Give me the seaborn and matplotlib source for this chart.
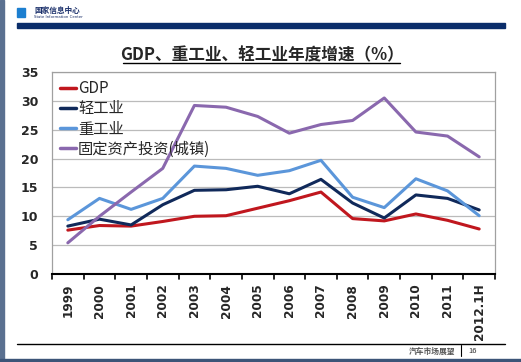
import pandas as pd
import seaborn as sns
import matplotlib.pyplot as plt
from matplotlib.lines import Line2D
from matplotlib.patches import Rectangle

# data
years = ['1999', '2000', '2001', '2002', '2003', '2004', '2005', '2006',
         '2007', '2008', '2009', '2010', '2011', '2012.1H']
gdp = [7.6, 8.4, 8.3, 9.1, 10.0, 10.1, 11.4, 12.7, 14.2, 9.6, 9.2, 10.4, 9.3, 7.8]
light_ind = [8.3, 9.5, 8.5, 12.0, 14.5, 14.6, 15.2, 13.9, 16.4, 12.3, 9.7, 13.7, 13.1, 11.1]
heavy_ind = [9.4, 13.1, 11.2, 13.1, 18.7, 18.3, 17.1, 17.9, 19.7, 13.3, 11.5, 16.5, 14.4, 10.1]
fixed_inv = [5.4, 10.0, 14.2, 18.3, 29.2, 28.9, 27.3, 24.4, 25.9, 26.6, 30.5, 24.6, 23.9, 20.3]

series_names = ['GDP', '轻工业', '重工业', '固定资产投资(城镇)']
colors = ['#C0171E', '#10295A', '#5B96DA', '#8A68AE']

df = pd.DataFrame({'year': years * 4,
                   'value': gdp + light_ind + heavy_ind + fixed_inv,
                   'series': sum([[n] * len(years) for n in series_names], [])})

sns.set_style('white')
plt.rcParams['font.family'] = ['Noto Sans CJK SC', 'DejaVu Sans']

fig = plt.figure(figsize=(5.21, 3.62), dpi=100)

# slide decoration
fig.patches.append(Rectangle((0, 0), 0.007, 1, transform=fig.transFigure, color='#5A7090'))
fig.patches.append(Rectangle((0, 0), 1, 0.009, transform=fig.transFigure, color='#3C5478'))
fig.patches.append(Rectangle((17 / 521, 1 - 28 / 362), 488 / 521, 5 / 362,
                             transform=fig.transFigure, color='#0A2D6A'))
fig.patches.append(Rectangle((17 / 521, 1 - 17 / 362), 8 / 521, 9 / 362,
                             transform=fig.transFigure, color='#1C7FD0'))
fig.text(34 / 521, 1 - 10 / 362, '国家信息中心', fontsize=5.5, fontweight='bold',
         color='#1A2F6A', va='center')
fig.text(34 / 521, 1 - 17 / 362, 'State Information Center', fontsize=2.8,
         color='#1A2F6A', va='center', family='DejaVu Sans')
fig.add_artist(Line2D([17 / 521, 505 / 521], [1 - 344 / 362, 1 - 344 / 362],
                      color='black', lw=1.0))
fig.text(455 / 521, 1 - 351 / 362, '汽车市场展望', fontsize=5.6, fontweight='bold',
         color='#555555', ha='right', va='center')
fig.add_artist(Line2D([461 / 521, 461 / 521], [1 - 356 / 362, 1 - 345 / 362],
                      color='black', lw=0.8))
fig.text(468 / 521, 1 - 351 / 362, '16', fontsize=5.5, color='#333333', va='center')

# title
fig.text(262 / 521, 1 - 55 / 362, 'GDP、重工业、轻工业年度增速（%）', fontsize=12,
         fontweight='bold', ha='center', va='center')
fig.add_artist(Line2D([123 / 521, 400 / 521], [1 - 63 / 362, 1 - 63 / 362],
                      color='black', lw=1.0))

ax = fig.add_axes([52 / 521, 1 - 274 / 362, 443 / 521, 202 / 362])
sns.lineplot(data=df, x='year', y='value', hue='series', hue_order=series_names,
             palette=colors, linewidth=2.2, sort=False, ax=ax)

ax.set_xlim(-0.5, len(years) - 0.5)
ax.set_ylim(0, 35)
ax.set_yticks(range(0, 36, 5))
ax.yaxis.grid(True, color='#BBBBBB', lw=0.9)
ax.set_axisbelow(True)
ax.set_xlabel('')
ax.set_ylabel('')
ax.set_xticks(range(len(years)))
ax.set_xticklabels(years, rotation=90, fontsize=8.7, fontweight='bold', family='DejaVu Sans')
ax.tick_params(axis='x', length=0, pad=7)
ax.tick_params(axis='y', length=0, labelsize=9, pad=10)
for lab in ax.get_yticklabels():
    lab.set_fontweight('bold')
    lab.set_family('DejaVu Sans')
# category boundary tick marks on the bottom axis
for i in range(len(years) + 1):
    ax.plot([i - 0.5, i - 0.5], [0, -0.9], color='black', lw=1.2, clip_on=False)
for side in ['top', 'right', 'left']:
    ax.spines[side].set_color('#A0A0A0')
    ax.spines[side].set_linewidth(0.9)
ax.spines['bottom'].set_color('black')
ax.spines['bottom'].set_linewidth(1.5)

leg = ax.legend(loc='upper left', frameon=False, fontsize=11, handlelength=1.0,
                handletextpad=0.15, labelspacing=0.2, borderaxespad=0.3,
                borderpad=0.25)
for line in leg.get_lines():
    line.set_linewidth(2.5)

fig.savefig('out.png', dpi=100)
